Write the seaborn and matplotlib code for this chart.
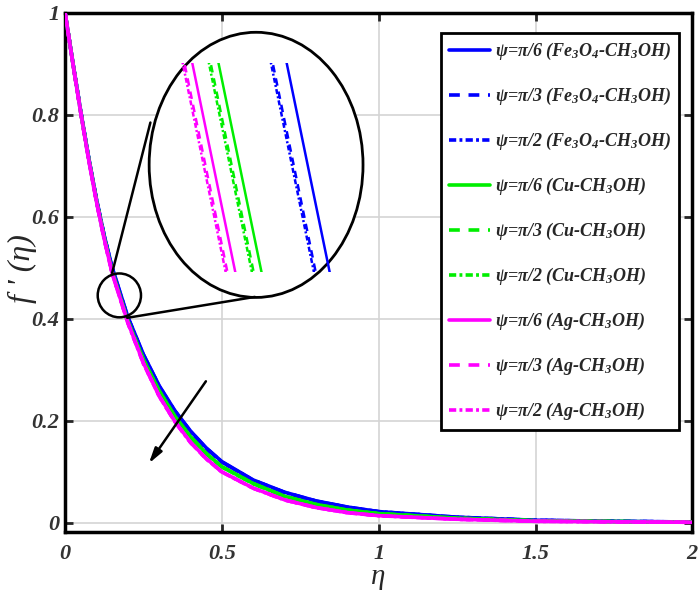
import numpy as np
import pandas as pd
import seaborn as sns
import matplotlib.pyplot as plt
from matplotlib.patches import Ellipse

# similarity variable
eta = [0, 0.025, 0.05, 0.075, 0.1, 0.125, 0.15, 0.2, 0.25, 0.3, 0.35, 0.4, 0.45, 0.5,
       0.6, 0.7, 0.8, 0.9, 1.0, 1.25, 1.5, 1.75, 2.0]

# f'(eta)
fe_pi6 = [1.0, 0.902, 0.807, 0.717, 0.635, 0.563, 0.501, 0.404, 0.330, 0.269, 0.220, 0.180, 0.147, 0.120,
          0.084, 0.060, 0.043, 0.031, 0.022, 0.011, 0.005, 0.003, 0.0015]
fe_pi3 = [1.0, 0.9015, 0.8063, 0.7162, 0.6340, 0.5618, 0.4994, 0.4024, 0.3287, 0.2678, 0.2189, 0.1790, 0.1461, 0.1192,
          0.0834, 0.0595, 0.0426, 0.0307, 0.0218, 0.0109, 0.0049, 0.0030, 0.0015]
fe_pi2 = [1.0, 0.9014, 0.8061, 0.7160, 0.6338, 0.5616, 0.4992, 0.4022, 0.3285, 0.2676, 0.2187, 0.1788, 0.1459, 0.1190,
          0.0833, 0.0594, 0.0425, 0.0306, 0.0217, 0.0108, 0.0049, 0.0029, 0.0015]
cu_pi6 = [1.0, 0.901, 0.805, 0.715, 0.632, 0.559, 0.4932, 0.3962, 0.320, 0.259, 0.209, 0.169, 0.136, 0.110,
          0.077, 0.052, 0.036, 0.025, 0.018, 0.009, 0.004, 0.0025, 0.0012]
cu_pi3 = [1.0, 0.9006, 0.8045, 0.7144, 0.6313, 0.5582, 0.4923, 0.3953, 0.3192, 0.2583, 0.2084, 0.1685, 0.1356, 0.1097,
          0.0768, 0.0518, 0.0359, 0.0249, 0.0179, 0.0089, 0.0040, 0.0025, 0.0012]
cu_pi2 = [1.0, 0.9005, 0.8043, 0.7142, 0.6311, 0.5580, 0.4921, 0.3951, 0.3190, 0.2581, 0.2082, 0.1683, 0.1354, 0.1095,
          0.0767, 0.0517, 0.0358, 0.0248, 0.0178, 0.0089, 0.0039, 0.0024, 0.0012]
ag_pi6 = [1.0, 0.900, 0.804, 0.713, 0.630, 0.556, 0.4902, 0.3932, 0.313, 0.249, 0.199, 0.158, 0.126, 0.100,
          0.068, 0.045, 0.030, 0.020, 0.014, 0.007, 0.003, 0.002, 0.001]
ag_pi3 = [1.0, 0.8996, 0.8035, 0.7124, 0.6292, 0.5552, 0.4893, 0.3923, 0.3122, 0.2483, 0.1984, 0.1575, 0.1256, 0.0997,
          0.0678, 0.0448, 0.0299, 0.0199, 0.0139, 0.0069, 0.0030, 0.0020, 0.0010]
ag_pi2 = [1.0, 0.8995, 0.8033, 0.7122, 0.6290, 0.5550, 0.4891, 0.3921, 0.3120, 0.2481, 0.1982, 0.1573, 0.1254, 0.0995,
          0.0677, 0.0447, 0.0298, 0.0198, 0.0138, 0.0069, 0.0029, 0.0019, 0.0010]

labels = [
    r'ψ=π/6 (Fe$_3$O$_4$-CH$_3$OH)',
    r'ψ=π/3 (Fe$_3$O$_4$-CH$_3$OH)',
    r'ψ=π/2 (Fe$_3$O$_4$-CH$_3$OH)',
    r'ψ=π/6 (Cu-CH$_3$OH)',
    r'ψ=π/3 (Cu-CH$_3$OH)',
    r'ψ=π/2 (Cu-CH$_3$OH)',
    r'ψ=π/6 (Ag-CH$_3$OH)',
    r'ψ=π/3 (Ag-CH$_3$OH)',
    r'ψ=π/2 (Ag-CH$_3$OH)',
]
xticks = [0, 0.5, 1, 1.5, 2]
xtick_labels = ['0', '0.5', '1', '1.5', '2']
yticks = [0, 0.2, 0.4, 0.6, 0.8, 1]
ytick_labels = ['0', '0.2', '0.4', '0.6', '0.8', '1']

series = [fe_pi6, fe_pi3, fe_pi2, cu_pi6, cu_pi3, cu_pi2, ag_pi6, ag_pi3, ag_pi2]
colors = ['#0000ff'] * 3 + ['#00ee00'] * 3 + ['#ff00ff'] * 3
styles = ['-', (0, (3.0, 2.4)), (0, (2.0, 0.9, 0.8, 0.9))] * 3

# annotation geometry (data coords)
small_zoom = (0.173, 0.446, 0.138, 0.086)
big_zoom = (0.609, 0.702, 0.682, 0.52)
connector1 = ([0.150, 0.272], [0.490, 0.785])
connector2 = ([0.198, 0.605], [0.402, 0.443])
arrow_tail = (0.454, 0.282)
arrow_head = (0.262, 0.112)

sns.set_style('ticks')
plt.rcParams['font.family'] = ['Liberation Serif', 'DejaVu Serif']
plt.rcParams['font.weight'] = 'bold'
plt.rcParams['font.style'] = 'italic'
plt.rcParams['mathtext.fontset'] = 'custom'
plt.rcParams['mathtext.rm'] = 'Liberation Serif:bold:italic'
plt.rcParams['mathtext.it'] = 'Liberation Serif:bold:italic'
plt.rcParams['mathtext.bf'] = 'Liberation Serif:bold:italic'

fig = plt.figure(figsize=(7, 6.15), dpi=100)
ax = fig.add_axes([0.093, 0.135, 0.896, 0.844])

for vals, c, ls, lab in zip(series, colors, styles, labels):
    sns.lineplot(x=eta, y=vals, color=c, linestyle=ls, lw=2.6, label=lab, ax=ax, zorder=3)

ax.set_xlim(0, 2)
ax.set_ylim(-0.018, 1)
ax.set_xticks(xticks)
ax.set_xticklabels(xtick_labels)
ax.set_yticks(yticks)
ax.set_yticklabels(ytick_labels)
ax.grid(True, color='#d4d4d4', lw=1.2)
ax.tick_params(direction='in', length=6, width=2, top=True, right=True,
               labelsize=16, labelcolor='#333333', pad=4)
ax.tick_params(axis='x', pad=9)
for sp in ax.spines.values():
    sp.set_linewidth(2.5)
    sp.set_color('black')
ax.set_xlabel('η', fontsize=21, labelpad=0)
ax.set_ylabel("f ' (η)", fontsize=23)
ax.yaxis.set_label_coords(-0.045, 0.507)

# zoom markers
ax.add_patch(Ellipse(small_zoom[:2], small_zoom[2], small_zoom[3], fill=False,
                     ec='black', lw=1.8, zorder=5))
ax.add_patch(Ellipse(big_zoom[:2], big_zoom[2], big_zoom[3], fc='white',
                     ec='black', lw=2.0, zorder=4))
ax.plot(*connector1, color='black', lw=1.8, zorder=5)
ax.plot(*connector2, color='black', lw=1.8, zorder=5)
ax.annotate('', xy=arrow_head, xytext=arrow_tail,
            arrowprops=dict(arrowstyle='-|>,head_width=0.25,head_length=0.9',
                            color='black', lw=1.8), zorder=6)

leg = ax.legend(loc='upper right', bbox_to_anchor=(0.979, 0.961), borderaxespad=0,
                fontsize=13, labelspacing=1.32, handlelength=2.3, handletextpad=0.25,
                borderpad=0.45, fancybox=False, framealpha=1, edgecolor='black')
leg.get_frame().set_linewidth(2.0)
leg.set_zorder(7)

# zoomed view inside the big ellipse
axin = fig.add_axes([0.214, 0.558, 0.304, 0.340])
for vals, c, ls in zip(series, colors, styles):
    sns.lineplot(x=eta, y=vals, color=c, linestyle=ls, lw=1.8, ax=axin, legend=False)
axin.set_xlim(0.17056, 0.18311)
axin.set_ylim(0.44054, 0.44546)
axin.set_axis_off()
axin.patch.set_alpha(0)

fig.savefig('out.png', dpi=100)
